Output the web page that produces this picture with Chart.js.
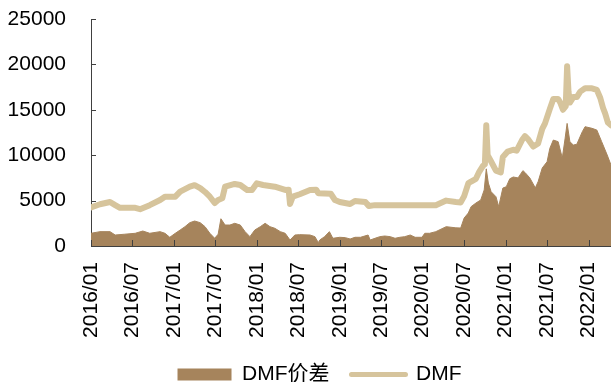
<!DOCTYPE html>
<html>
<head>
<meta charset="utf-8">
<script src="https://cdn.jsdelivr.net/npm/chart.js@4.4.1/dist/chart.umd.min.js"></script>
<style>
  html, body { margin: 0; padding: 0; background: #ffffff; }
  #wrap { width: 611px; height: 386px; }
</style>
</head>
<body>
<div id="wrap"><canvas id="c" width="611" height="386"></canvas></div>
<script>
// Months counted from 2016/01
const tickMonths = [0, 6, 12, 18, 24, 30, 36, 42, 48, 54, 60, 66, 72];
const tickLabels = ['2016/01', '2016/07', '2017/01', '2017/07', '2018/01', '2018/07', '2019/01',
                    '2019/07', '2020/01', '2020/07', '2021/01', '2021/07', '2022/01'];

// DMF price (yuan/ton)
const dmfMonths = [0, 1.3, 2.75, 3.5, 4.2, 6.4, 7.1, 8.5, 10, 10.7, 12.2, 12.9, 14.3, 15, 15.8, 16.5, 17.2,
  17.9, 18.4, 19, 19.4, 20.8, 21.6, 22.6, 23.3, 24, 24.9, 26.6, 28.1, 28.6, 28.8, 29.2, 30.2, 31.7, 32.6,
  32.9, 34.7, 35.3, 36, 37.5, 38.2, 39.7, 40.2, 41.1, 49.9, 51.4, 52.8, 53.5, 54.0, 54.6, 55.0, 55.7, 56.2,
  56.7, 57.0, 57.2, 57.4, 57.9, 58.6, 59.3, 59.6, 60.3, 61.1, 61.6, 62.4, 62.8, 63.2, 64.0, 64.7, 65.3, 65.7,
  66.4, 66.9, 67.6, 67.9, 68.3, 68.7, 68.9, 69.1, 69.3, 69.8, 70.3, 70.8, 71.5, 72.5, 73.2, 73.7, 74.1,
  74.4, 74.8, 75.25];
const dmfPrice = [4260, 4600, 4850, 4500, 4200, 4200, 4050, 4500, 5070, 5430, 5430, 5980, 6530, 6700, 6380,
  5950, 5430, 4730, 5070, 5250, 6530, 6830, 6720, 6170, 6170, 6900, 6720, 6530, 6170, 6200, 4620, 5430,
  5700, 6170, 6200, 5800, 5750, 5070, 4850, 4620, 4950, 4850, 4400, 4500, 4500, 5000, 4850, 4800, 5500,
  6900, 7100, 7400, 8200, 8800, 9000, 13300, 10000, 9300, 8300, 8100, 9800, 10400, 10600, 10500, 11700,
  12100, 11800, 10950, 11300, 12900, 13500, 15100, 16200, 16200, 15800, 15000, 15400, 19800, 17000,
  15800, 16400, 16400, 17000, 17370, 17370, 17200, 16300, 15200, 14600, 13600, 13300];

// DMF spread (yuan/ton)
const spreadMonths = [0, 1.3, 2.75, 3.5, 4.9, 6.4, 7.5, 8.5, 10, 10.7, 11.4, 12.2, 12.9, 13.6, 14.3, 15,
  15.8, 16.5, 17.2, 17.9, 18.4, 18.8, 19.4, 20.1, 20.8, 21.6, 22.3, 23, 23.7, 24.5, 25.2, 25.9, 26.6, 27.4,
  28.1, 28.8, 29.5, 30.2, 31.7, 32.4, 32.9, 33.1, 33.8, 34.5, 35, 36, 36.8, 37.5, 38.2, 39, 40.1, 40.4,
  41.1, 41.8, 42.5, 43.3, 44, 44.7, 45.4, 46.2, 46.9, 47.9, 48.3, 49, 49.9, 51.4, 52.8, 53.5, 54.0, 54.6,
  55.0, 55.7, 56.4, 56.9, 57.2, 57.5, 57.9, 58.6, 59.0, 59.6, 60.1, 60.6, 61.1, 61.8, 62.5, 62.8, 63.5,
  64.3, 64.7, 65.3, 66.0, 66.4, 66.9, 67.6, 68.2, 68.6, 68.9, 69.3, 69.8, 70.3, 71.1, 71.5, 72.5, 73.2,
  73.9, 74.7, 75.25];
const spreadValue = [1400, 1580, 1580, 1210, 1300, 1400, 1650, 1400, 1580, 1400, 960, 1400, 1760, 2130,
  2570, 2750, 2570, 2130, 1400, 850, 1300, 3000, 2310, 2310, 2500, 2310, 1580, 1030, 1760, 2130, 2500,
  2130, 1950, 1580, 1400, 660, 1210, 1250, 1210, 1030, 370, 660, 1030, 1580, 850, 960, 920, 770, 960,
  960, 1210, 660, 850, 1030, 1100, 1030, 850, 960, 1030, 1210, 960, 960, 1400, 1400, 1580, 2130, 2000,
  1980, 3080, 3630, 4330, 4730, 5070, 6170, 8500, 6930, 5980, 5430, 4330, 6380, 6530, 7400, 7600, 7500,
  8300, 8100, 7500, 6400, 7080, 8590, 9280, 10760, 11670, 11490, 9690, 11800, 13500, 11490, 11120, 11200,
  12590, 13140, 12960, 12770, 11490, 10020, 8920];

const BROWN = '#A6845C';
const BEIGE = '#D6C49C';
const AXIS = '#404040';
const FONT = "'Liberation Sans', Arial, 'Noto Sans CJK SC', sans-serif";

const toPoints = (xs, ys) => xs.map((m, i) => ({ x: m, y: ys[i] }));

// short tick marks pointing into the plot area
const innerTicks = {
  id: 'innerTicks',
  afterDatasetsDraw(chart) {
    const { ctx, scales: { x, y } } = chart;
    ctx.save();
    ctx.strokeStyle = AXIS;
    ctx.lineWidth = 1;
    ctx.beginPath();
    x.ticks.forEach(t => {
      const px = Math.round(x.getPixelForValue(t.value)) + 0.5;
      ctx.moveTo(px, y.bottom);
      ctx.lineTo(px, y.bottom - 6);
    });
    y.ticks.forEach(t => {
      const py = Math.round(y.getPixelForValue(t.value)) + 0.5;
      ctx.moveTo(x.left, py);
      ctx.lineTo(x.left + 5, py);
    });
    ctx.moveTo(x.left, Math.round(y.bottom) + 0.5);
    ctx.lineTo(x.right, Math.round(y.bottom) + 0.5);
    ctx.stroke();
    ctx.restore();
  }
};

// nudge the legend row a little to the right of the canvas centre
const legendShift = {
  id: 'legendShift',
  afterLayout(chart) {
    const l = chart.legend;
    if (l) { l.left += 14; l.right += 14; }
  }
};

new Chart(document.getElementById('c'), {
  type: 'line',
  data: {
    datasets: [
      {
        label: 'DMF价差',
        data: toPoints(spreadMonths, spreadValue),
        backgroundColor: BROWN,
        borderColor: BROWN,
        borderWidth: 1,
        fill: 'origin',
        pointRadius: 0,
        tension: 0,
        order: 1
      },
      {
        label: 'DMF',
        data: toPoints(dmfMonths, dmfPrice),
        borderColor: BEIGE,
        backgroundColor: BEIGE,
        borderWidth: 6,
        borderJoinStyle: 'round',
        borderCapStyle: 'round',
        fill: false,
        pointRadius: 0,
        tension: 0,
        order: 0
      }
    ]
  },
  options: {
    responsive: false,
    animation: false,
    devicePixelRatio: 1,
    layout: { padding: { left: 0, right: 0, top: 19, bottom: 4 } },
    plugins: {
      tooltip: { enabled: false },
      legend: {
        position: 'bottom',
        maxHeight: 40,
        labels: {
          usePointStyle: true,
          pointStyleWidth: 54,
          boxHeight: 12,
          padding: 22,
          color: '#000000',
          font: { family: FONT, size: 21 },
          generateLabels: () => [
            { text: 'DMF价差', fillStyle: BROWN, strokeStyle: BROWN, lineWidth: 0,
              pointStyle: 'rect', datasetIndex: 0, hidden: false, fontColor: '#000000' },
            { text: 'DMF', fillStyle: BEIGE, strokeStyle: BEIGE, lineWidth: 5, lineCap: 'round',
              pointStyle: 'line', datasetIndex: 1, hidden: false, fontColor: '#000000' }
          ]
        }
      }
    },
    scales: {
      x: {
        type: 'linear',
        min: 0,
        max: 75.25,
        grid: { display: true, drawOnChartArea: false, drawTicks: false },
        border: { display: true, color: AXIS, width: 1 },
        afterBuildTicks: s => { s.ticks = tickMonths.map(v => ({ value: v })); },
        afterFit: s => { s.height = 96; s.paddingLeft = 0; s.paddingRight = 0; },
        ticks: {
          autoSkip: false,
          minRotation: 90,
          maxRotation: 90,
          padding: 16,
          color: '#000000',
          font: { family: FONT, size: 21 },
          callback: v => tickLabels[tickMonths.indexOf(v)]
        }
      },
      y: {
        min: 0,
        max: 25000,
        grid: { display: true, drawOnChartArea: false, drawTicks: false },
        border: { display: true, color: AXIS, width: 1 },
        afterFit: s => { s.width = 91; s.paddingTop = 0; s.paddingBottom = 0; },
        ticks: {
          stepSize: 5000,
          padding: 25,
          color: '#000000',
          font: { family: FONT, size: 21 },
          callback: v => String(v)
        }
      }
    }
  },
  plugins: [innerTicks, legendShift]
});
</script>
</body>
</html>
